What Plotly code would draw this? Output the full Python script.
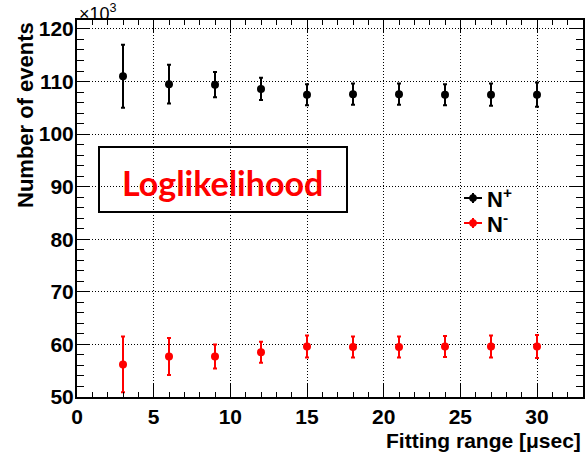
import plotly.graph_objects as go

# Data (values in units of 10^3 events)
fit_range = [3, 6, 9, 12, 15, 18, 21, 24, 27, 30]
n_plus = [111.0, 109.5, 109.4, 108.6, 107.5, 107.6, 107.6, 107.5, 107.5, 107.5]
n_plus_err = [6.0, 3.7, 2.4, 2.1, 2.0, 2.0, 2.0, 2.0, 2.1, 2.3]
n_minus = [56.2, 57.7, 57.7, 58.5, 59.6, 59.5, 59.5, 59.6, 59.6, 59.6]
n_minus_err = [5.3, 3.5, 2.3, 2.0, 2.1, 2.0, 2.0, 2.0, 2.1, 2.2]

x_ticks = [0, 5, 10, 15, 20, 25, 30]
y_ticks = [50, 60, 70, 80, 90, 100, 110, 120]

BOLD = dict(family="Liberation Sans, Arial, Helvetica", color="black", weight="bold")

fig = go.Figure()
fig.add_trace(go.Scatter(
    x=fit_range, y=n_plus, mode="markers", name="N+",
    marker=dict(color="black", size=8, symbol="circle"),
    error_y=dict(type="data", array=n_plus_err, color="black", thickness=2, width=2),
    showlegend=False, cliponaxis=False))
fig.add_trace(go.Scatter(
    x=fit_range, y=n_minus, mode="markers", name="N-",
    marker=dict(color="#ff0000", size=8, symbol="circle"),
    error_y=dict(type="data", array=n_minus_err, color="#ff0000", thickness=2, width=2),
    showlegend=False, cliponaxis=False))

axis_common = dict(
    showline=True, linecolor="black", linewidth=2, mirror="allticks",
    ticks="inside", tickcolor="black", tickwidth=1,
    showgrid=True, gridcolor="black", gridwidth=1, griddash="1px,2px",
    zeroline=False, tickfont=dict(size=21, **BOLD), automargin=False,
)
fig.update_xaxes(range=[0, 33], tickvals=x_ticks, ticklen=13,
                 minor=dict(dtick=1, ticks="inside", ticklen=5, tickcolor="black", showgrid=False),
                 ticklabelstandoff=0, **axis_common)
fig.update_yaxes(range=[50, 121.7], tickvals=y_ticks, ticklen=13,
                 minor=dict(dtick=2, ticks="inside", ticklen=7, tickcolor="black", showgrid=False),
                 ticklabelstandoff=-3, **axis_common)

W, H = 587, 455
# plot area in page pixels
PL, PR, PT, PB = 77, 583, 20, 397
pw, ph = PR - PL, PB - PT

def px_x(px):
    return (px - PL) / pw

def px_y(py):
    return (PB - py) / ph

annotations = [
    dict(text="Number of events", textangle=-90, xref="paper", yref="paper",
         x=px_x(25), y=1.0, xanchor="center", yanchor="top", showarrow=False,
         font=dict(size=22, **BOLD)),
    dict(text="Fitting range [μsec]", xref="paper", yref="paper",
         x=1.0, y=px_y(440), xanchor="right", yanchor="middle", showarrow=False,
         font=dict(size=21, **BOLD)),
    dict(text="×10<sup>3</sup>", xref="paper", yref="paper",
         x=0.0, y=px_y(12), xanchor="left", yanchor="middle", showarrow=False,
         font=dict(size=18, family="Liberation Sans, Arial", color="black")),
    dict(text="<b>Loglikelihood</b>", xref="paper", yref="paper",
         x=px_x(222), y=px_y(182), xanchor="center", yanchor="middle", showarrow=False,
         font=dict(size=34, family="Lato, Open Sans", color="#ff0000")),
    dict(text="N<sup>+</sup>", xref="paper", yref="paper",
         x=px_x(485), y=px_y(198), xanchor="left", yanchor="middle", showarrow=False,
         font=dict(size=22, **BOLD)),
    dict(text="N<sup>-</sup>", xref="paper", yref="paper",
         x=px_x(485), y=px_y(223), xanchor="left", yanchor="middle", showarrow=False,
         font=dict(size=22, **BOLD)),
]

shapes = [
    dict(type="rect", xref="paper", yref="paper",
         x0=px_x(99), x1=px_x(347), y0=px_y(212), y1=px_y(147),
         line=dict(color="black", width=2), fillcolor="rgba(0,0,0,0)"),
]
for cy, col in [(198, "black"), (223, "#ff0000")]:
    shapes.append(dict(type="line", xref="paper", yref="paper",
                       x0=px_x(464), x1=px_x(482), y0=px_y(cy), y1=px_y(cy),
                       line=dict(color=col, width=2)))
    shapes.append(dict(type="line", xref="paper", yref="paper",
                       x0=px_x(473), x1=px_x(473), y0=px_y(cy - 5), y1=px_y(cy + 5),
                       line=dict(color=col, width=2)))
    shapes.append(dict(type="circle", xref="paper", yref="paper",
                       x0=px_x(469.5), x1=px_x(476.5), y0=px_y(cy + 3.5), y1=px_y(cy - 3.5),
                       line=dict(color=col, width=1), fillcolor=col))

fig.update_layout(
    width=W, height=H,
    margin=dict(l=PL, r=W - PR, t=PT, b=H - PB, pad=0),
    paper_bgcolor="white", plot_bgcolor="white",
    annotations=annotations, shapes=shapes, showlegend=False,
)

fig.write_html("out.html", config={"displayModeBar": False},
               post_script="document.body.style.margin='0';document.body.style.overflow='hidden';")
